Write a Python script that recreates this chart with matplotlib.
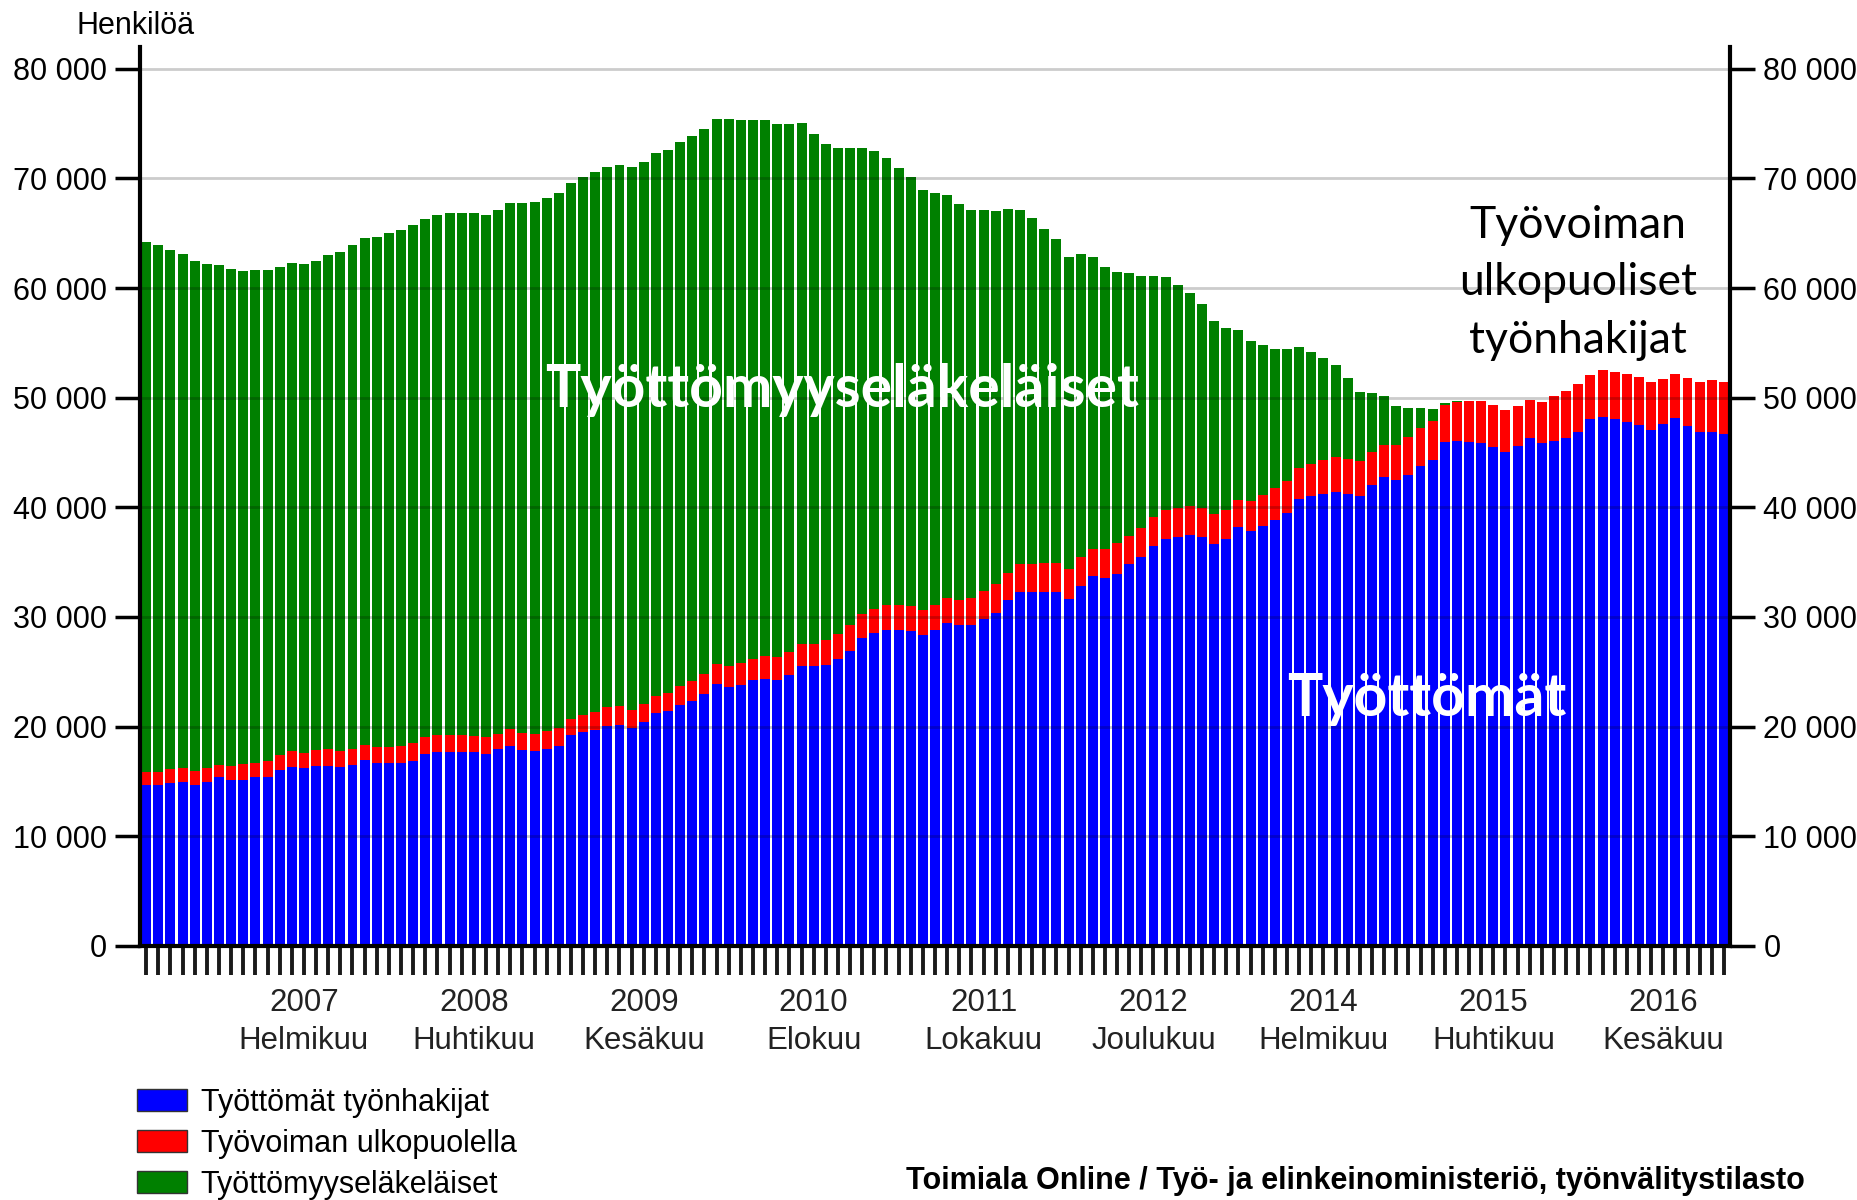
import matplotlib
matplotlib.use("Agg")
import matplotlib.pyplot as plt
from matplotlib.patches import Patch
from matplotlib.ticker import FuncFormatter, MultipleLocator
import numpy as np

plt.rcParams["font.family"] = ["Liberation Sans", "DejaVu Sans"]

# monthly values, Jan 2006 .. Nov 2016 (131 months)
tyottomat = [
    14700, 14700, 14880, 14940, 14700, 14940, 15390, 15150, 15150, 15390,
    15450, 16060, 16300, 16210, 16450, 16450, 16360, 16520, 16970, 16670,
    16670, 16670, 16910, 17520, 17730, 17730, 17730, 17670, 17520, 17940,
    18240, 17880, 17760, 17970, 18210, 19240, 19480, 19700, 20090, 20180,
    19880, 20450, 21240, 21450, 21940, 22360, 22970, 23880, 23640, 23790,
    24240, 24390, 24300, 24700, 25520, 25520, 25610, 26210, 26910, 28120,
    28550, 28790, 28790, 28700, 28330, 28850, 29480, 29240, 29240, 29850,
    30390, 31520, 32240, 32240, 32240, 32240, 31670, 32850, 33700, 33580,
    33940, 34790, 35450, 36520, 37120, 37300, 37450, 37270, 36700, 37100,
    38180, 37820, 38270, 38880, 39480, 40790, 41000, 41210, 41390, 41210,
    41000, 42000, 42730, 42520, 42970, 43730, 44330, 45940, 46060, 46000,
    45910, 45480, 45090, 45550, 46360, 45910, 46090, 46360, 46910, 48060,
    48270, 48060, 47820, 47520, 47060, 47610, 48180, 47450, 46850, 46850,
    46700,
]
ulkopuolella = [
    1210, 1210, 1270, 1270, 1300, 1270, 1130, 1300, 1430, 1340,
    1400, 1360, 1460, 1370, 1460, 1490, 1460, 1420, 1390, 1450,
    1510, 1570, 1640, 1510, 1510, 1510, 1510, 1510, 1510, 1390,
    1520, 1570, 1570, 1610, 1640, 1460, 1580, 1660, 1670, 1670,
    1640, 1580, 1520, 1640, 1760, 1820, 1790, 1820, 1880, 1970,
    1940, 2030, 2060, 2120, 2000, 2000, 2270, 2270, 2330, 2180,
    2210, 2270, 2330, 2270, 2280, 2210, 2280, 2340, 2520, 2510,
    2580, 2480, 2550, 2550, 2700, 2700, 2690, 2600, 2480, 2630,
    2790, 2570, 2670, 2570, 2610, 2670, 2640, 2670, 2690, 2630,
    2520, 2730, 2880, 2880, 2940, 2790, 2970, 3120, 3190, 3210,
    3240, 3030, 2970, 3180, 3480, 3480, 3550, 3390, 3540, 3730,
    3790, 3850, 3790, 3690, 3430, 3730, 4090, 4250, 4300, 4000,
    4250, 4300, 4300, 4390, 4330, 4090, 3940, 4310, 4600, 4760,
    4690,
]
elakelaiset = [
    48330, 47970, 47330, 46910, 46450, 45940, 45540, 45310, 45000, 44880,
    44790, 44520, 44540, 44600, 44540, 45090, 45450, 45940, 46220, 46520,
    46820, 47060, 47240, 47270, 47460, 47610, 47580, 47670, 47670, 47790,
    48000, 48280, 48490, 48630, 48850, 48880, 49090, 49190, 49240, 49360,
    49480, 49470, 49540, 49540, 49610, 49640, 49720, 49700, 49940, 49520,
    49100, 48950, 48570, 48140, 47520, 46510, 45280, 44300, 43510, 42510,
    41780, 40820, 39870, 39120, 38350, 37630, 36750, 36060, 35400, 34740,
    34070, 33250, 32310, 31570, 30430, 29540, 28480, 27680, 26690, 25730,
    24760, 23980, 23010, 22040, 21260, 20330, 19490, 18640, 17610, 16630,
    15510, 14630, 13640, 12720, 12000, 11060, 10210, 9310, 8390, 7340,
    6310, 5360, 4450, 3570, 2640, 1820, 1060, 150, 100, 0,
    0, 0, 0, 0, 0, 0, 0, 0, 0, 0,
    0, 0, 0, 0, 0, 0, 0, 0, 0, 0,
    0,
]

label_months = [13, 27, 41, 55, 69, 83, 97, 111, 125]
label_years = ["2007", "2008", "2009", "2010", "2011", "2012", "2014", "2015", "2016"]
label_names = ["Helmikuu", "Huhtikuu", "Kesäkuu", "Elokuu", "Lokakuu",
               "Joulukuu", "Helmikuu", "Huhtikuu", "Kesäkuu"]

series = ["Työttömät työnhakijat", "Työvoiman ulkopuolella", "Työttömyyseläkeläiset"]
colors = ["#0000ff", "#ff0000", "#008000"]

fig = plt.figure(figsize=(18.58, 12), dpi=100)
ax = fig.add_axes([0.0754, 0.2117, 0.8557, 0.7493])

x = np.arange(len(tyottomat))
blue = np.array(tyottomat)
red = np.array(ulkopuolella)
green = np.array(elakelaiset)
w = 0.82
ax.bar(x, blue, width=w, color=colors[0], linewidth=0, zorder=2)
ax.bar(x, red, width=w, bottom=blue, color=colors[1], linewidth=0, zorder=2)
ax.bar(x, green, width=w, bottom=blue + red, color=colors[2], linewidth=0, zorder=2)

ax.set_xlim(-0.5, len(x) - 0.5)
ax.set_ylim(0, 82000)
ax.yaxis.set_major_locator(MultipleLocator(10000))
ax.yaxis.set_major_formatter(FuncFormatter(lambda v, p: f"{int(v):,}".replace(",", " ")))
ax.grid(axis="y", color="black", alpha=0.2, linewidth=2, zorder=3)
ax.set_axisbelow(False)

for s in ["left", "right", "bottom"]:
    ax.spines[s].set_linewidth(3)
    ax.spines[s].set_zorder(5)
ax.spines["top"].set_visible(False)

ax.set_xticks(x)
ax.set_xticklabels([])
ax.tick_params(axis="x", direction="out", length=21, width=2.8, color="#1a1a1a")
ax.tick_params(axis="y", direction="out", length=18, width=2.5, left=True, right=True,
               labelleft=True, labelright=True, labelsize=22, pad=6)

trans = ax.get_xaxis_transform()
for m, yr, nm in zip(label_months, label_years, label_names):
    ax.text(m, -0.063, yr, transform=trans, ha="center", va="center", fontsize=22.5,
            color="#222222")
    ax.text(m, -0.106, nm, transform=trans, ha="center", va="center", fontsize=22.5,
            color="#222222")

fig.text(0.0414, 0.978, "Henkilöä", ha="left", va="center", fontsize=22)

ax.text(57.3, 50700, "Työttömyyseläkeläiset", ha="center", va="center", color="white",
        fontsize=42.5, fontweight="bold", family=["Lato", "DejaVu Sans"], zorder=6)
ax.text(105.5, 22500, "Työttömät", ha="center", va="center", color="white",
        fontsize=42.5, fontweight="bold", family=["Lato", "DejaVu Sans"], zorder=6)
ax.text(118.0, 60500, "Työvoiman\nulkopuoliset\ntyönhakijat", ha="center", va="center",
        color="black", fontsize=32, linespacing=1.5, family=["Lato", "DejaVu Sans"], zorder=6)

handles = [Patch(facecolor=c, edgecolor="#333333", linewidth=1) for c in colors]
fig.legend(handles, series, loc="upper left", bbox_to_anchor=(0.0735, 0.0935),
           frameon=False, fontsize=22, handlelength=1.65, handleheight=0.75,
           handletextpad=0.45, labelspacing=0.36, borderaxespad=0, borderpad=0)

fig.text(0.4876, 0.003, "Toimiala Online / Työ- ja elinkeinoministeriö, työnvälitystilasto",
         ha="left", va="bottom", fontsize=22, fontweight="bold")

fig.savefig("out.png", dpi=100)
